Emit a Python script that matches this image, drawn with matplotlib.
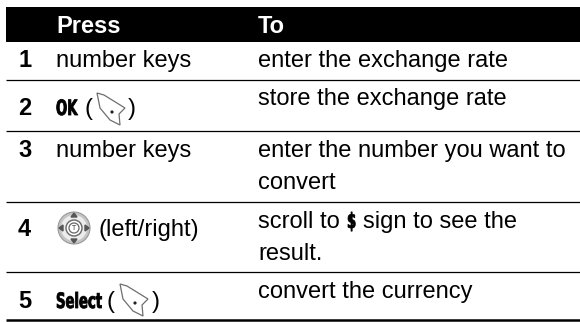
"""Phone manual table: currency conversion steps."""
import matplotlib
matplotlib.use('Agg')
import matplotlib.pyplot as plt
from matplotlib.patches import Circle, Polygon, Rectangle
from matplotlib.patheffects import AbstractPathEffect
from matplotlib.transforms import Affine2D

# Table content
headers = ['Press', 'To']
step_numbers = ['1', '2', '3', '4', '5']
press_labels = ['number keys', 'OK', 'number keys', '(left/right)', 'Select']
to_lines = [
    ['enter the exchange rate'],
    ['store the exchange rate'],
    ['enter the number you want to', 'convert'],
    ['scroll to', 'result.'],
    ['convert the currency'],
]
sign_text = r'\$'
sign_tail = 'sign to see the'

SANS = 'Liberation Sans'
FS = 17

# y positions in pixels, top of the figure is 0
number_y = [67, 115, 157, 236, 308]
to_y = [[67], [105], [157, 189], [228, 260], [298]]
rule_y = [80, 131, 202, 272]


class TallText(AbstractPathEffect):
    """Stretch and thicken text from its baseline, gives the heavy key font."""

    def __init__(self, factor, weight):
        super().__init__()
        self.factor = factor
        self.weight = weight

    def draw_path(self, renderer, gc, tpath, affine, rgbFace=None):
        y0 = affine.transform((0, 0))[1]
        stretch = Affine2D().translate(0, -y0).scale(1, self.factor).translate(0, y0)
        gc0 = renderer.new_gc()
        gc0.copy_properties(gc)
        gc0.set_linewidth(self.weight)
        gc0.set_foreground('black')
        renderer.draw_path(gc0, tpath, affine + stretch, rgbFace)
        gc0.restore()


def key_text(ax, x, y, label):
    """Heavy condensed text used for on-screen key names."""
    ax.text(x, y, label, fontsize=9.5, family='DejaVu Sans', fontweight='bold',
            va='baseline', path_effects=[TallText(1.6, 0.6)])


def softkey(ax, dx, dy):
    """Draw the soft key glyph, offset from its row 2 position."""
    outline = [(97, 93), (104, 95), (125, 108), (119, 114), (120, 125),
               (110, 120), (100, 108)]
    shifted = [(x + dx, y + dy) for x, y in outline]
    ax.add_patch(Polygon(shifted, closed=True, fc='white', ec='#6e6e6e', lw=0.9))
    ax.add_patch(Circle((112 + dx, 112 + dy), 0.9, color='#222222'))


def nav_key(ax, cx, cy):
    """Draw the round navigation key glyph."""
    ax.add_patch(Circle((cx, cy), 16, fc='#c4c4c4', ec='#9a9a9a', lw=0.8))
    ax.add_patch(Circle((cx, cy), 13, fc='#ececec', ec='none'))
    ax.add_patch(Circle((cx, cy), 8, fc='white', ec='#666666', lw=1.0))
    ax.add_patch(Circle((cx, cy), 5, fc='white', ec='#666666', lw=0.9))
    ax.text(cx, cy + 0.3, 'T', fontsize=5, family=SANS, ha='center', va='center',
            color='#333333')
    size = 3
    for ux, uy in [(0, -1), (0, 1), (-1, 0), (1, 0)]:
        tip = (cx + ux * 15, cy + uy * 15)
        base = cx + ux * 11, cy + uy * 11
        ax.add_patch(Polygon([tip, (base[0] + uy * size, base[1] + ux * size),
                              (base[0] - uy * size, base[1] - ux * size)],
                             closed=True, color='#555555'))


fig = plt.figure(figsize=(5.8, 3.22), dpi=100)
ax = fig.add_axes([0, 0, 1, 1])
ax.set_xlim(0, 580)
ax.set_ylim(322, 0)
ax.axis('off')

# Header band and rules
ax.add_patch(Rectangle((6, 7), 574, 35, color='black', lw=0))
for y in rule_y:
    ax.plot([6, 580], [y, y], color='black', lw=0.9, solid_capstyle='butt')
ax.plot([6, 580], [320, 320], color='black', lw=1.8, solid_capstyle='butt')

ax.text(56, 33, headers[0], color='white', fontsize=FS, family=SANS,
        fontweight='bold', va='baseline')
ax.text(258, 33, headers[1], color='white', fontsize=FS, family=SANS,
        fontweight='bold', va='baseline')

for num, y in zip(step_numbers, number_y):
    ax.text(18, y, num, fontsize=FS, family=SANS, fontweight='bold', va='baseline')

# Press column
ax.text(56, number_y[0], press_labels[0], fontsize=FS, family=SANS, va='baseline')
ax.text(56, number_y[2], press_labels[2], fontsize=FS, family=SANS, va='baseline')
ax.text(98, number_y[3], press_labels[3], fontsize=FS, family=SANS, va='baseline')
key_text(ax, 56, number_y[1], press_labels[1])
key_text(ax, 56, number_y[4], press_labels[4])

ax.text(84, number_y[1], '(', fontsize=FS, family=SANS, va='baseline')
ax.text(128, number_y[1], ')', fontsize=FS, family=SANS, va='baseline')
ax.text(107, number_y[4], '(', fontsize=FS, family=SANS, va='baseline')
ax.text(152, number_y[4], ')', fontsize=FS, family=SANS, va='baseline')
softkey(ax, 0, 0)
softkey(ax, 23, 191)
nav_key(ax, 74, 228)

# To column
for lines, ys in zip(to_lines, to_y):
    for line, y in zip(lines, ys):
        ax.text(258, y, line, fontsize=FS, family=SANS, va='baseline')
key_text(ax, 347, to_y[3][0], sign_text)
ax.text(363, to_y[3][0], sign_tail, fontsize=FS, family=SANS, va='baseline')

fig.savefig('out.png', dpi=100)
